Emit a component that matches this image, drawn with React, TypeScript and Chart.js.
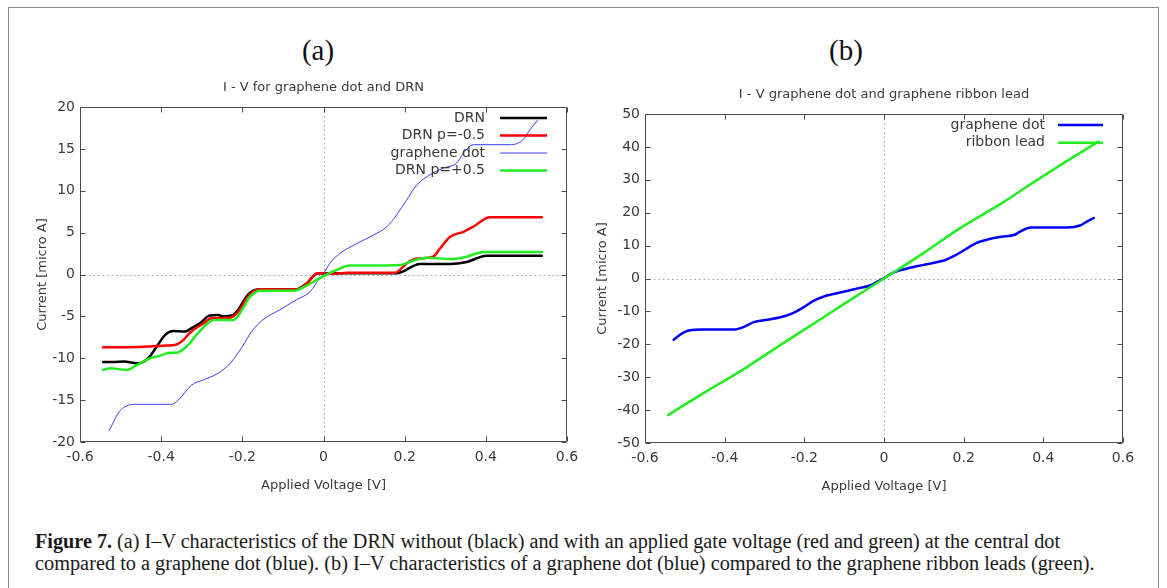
import React, { useEffect, useLayoutEffect, useRef } from 'react';
import { Chart, registerables } from 'chart.js';

Chart.register(...registerables);

// ---------- data ----------
const X_TICKS = [-0.6, -0.4, -0.2, 0, 0.2, 0.4, 0.6];
const Y_TICKS_A = [-20, -15, -10, -5, 0, 5, 10, 15, 20];
const Y_TICKS_B = [-50, -40, -30, -20, -10, 0, 10, 20, 30, 40, 50];

// DRN (black)
const DRN_V = [-0.543, -0.52, -0.49, -0.475, -0.456, -0.432, -0.411, -0.39, -0.37, -0.341, -0.325, -0.304, -0.28, -0.26, -0.247, -0.226, -0.21, -0.19, -0.173, -0.148, -0.07, -0.041, -0.021, -0.009, 0.05, 0.12, 0.18, 0.238, 0.312, 0.353, 0.402, 0.538];
const DRN_I = [-10.45, -10.45, -10.4, -10.5, -10.6, -10.0, -8.6, -7.2, -6.75, -6.8, -6.4, -5.8, -4.9, -4.85, -5.0, -4.9, -4.2, -2.65, -1.93, -1.77, -1.8, -1.05, 0.0, 0.14, 0.14, 0.14, 0.14, 1.25, 1.25, 1.5, 2.25, 2.25];

// DRN p=-0.5 (red)
const RED_V = [-0.543, -0.444, -0.395, -0.362, -0.345, -0.329, -0.296, -0.276, -0.23, -0.21, -0.189, -0.169, -0.148, -0.066, -0.041, -0.021, -0.009, 0.032, 0.057, 0.176, 0.205, 0.225, 0.27, 0.287, 0.312, 0.345, 0.369, 0.41, 0.538];
const RED_I = [-8.7, -8.62, -8.5, -8.35, -7.8, -6.95, -5.83, -5.23, -5.15, -4.44, -2.85, -1.93, -1.77, -1.8, -1.05, 0.0, 0.14, 0.1, 0.22, 0.22, 1.33, 1.85, 2.13, 3.1, 4.5, 5.1, 5.7, 6.83, 6.83];

// graphene dot (blue)
const DOT_V = [-0.528, -0.5, -0.46, -0.374, -0.358, -0.325, -0.297, -0.26, -0.23, -0.2, -0.177, -0.149, -0.107, -0.066, -0.033, -0.009, 0.0, 0.016, 0.04, 0.082, 0.123, 0.156, 0.18, 0.205, 0.23, 0.262, 0.295, 0.328, 0.345, 0.369, 0.46, 0.492, 0.509, 0.527];
const DOT_I = [-18.6, -16.2, -15.5, -15.5, -15.0, -13.2, -12.6, -11.8, -10.6, -8.6, -6.8, -5.4, -4.2, -3.0, -2.05, -0.4, 0.1, 1.37, 2.5, 3.7, 4.7, 5.7, 7.1, 8.9, 10.7, 11.9, 12.7, 13.3, 14.5, 15.5, 15.5, 16.1, 17.3, 18.4];

// DRN p=+0.5 (green)
const GRN_V = [-0.543, -0.526, -0.485, -0.46, -0.427, -0.403, -0.378, -0.362, -0.337, -0.313, -0.288, -0.271, -0.222, -0.198, -0.181, -0.156, -0.074, -0.046, -0.017, 0.0, 0.032, 0.065, 0.115, 0.188, 0.221, 0.254, 0.312, 0.353, 0.378, 0.402, 0.538];
const GRN_I = [-11.4, -11.2, -11.4, -10.8, -10.0, -9.7, -9.33, -9.33, -8.6, -7.2, -5.95, -5.43, -5.43, -4.0, -2.65, -1.93, -1.95, -1.45, -0.65, -0.2, 0.54, 1.06, 1.06, 1.13, 1.65, 2.0, 1.85, 2.13, 2.53, 2.69, 2.69];

// ribbon lead (green, panel b)
const RIB_V = [-0.542, -0.45, -0.362, -0.25, -0.194, -0.1, 0.0, 0.1, 0.191, 0.3, 0.358, 0.45, 0.538];
const RIB_I = [-41.5, -34.6, -28.3, -19.4, -15.1, -7.7, 0.0, 7.8, 15.3, 23.2, 27.9, 35.0, 41.6];

const FONT = "'DejaVu Sans', Verdana, sans-serif";
const TEXT = '#3a3a3a';

const pts = (xs: number[], ys: number[]) => xs.map((x, i) => ({ x, y: ys[i] }));

const gnuFrame = {
  id: 'gnuframe',
  beforeDatasetsDraw(chart: any) {
    const { ctx, chartArea: a, scales } = chart;
    const x0 = Math.round(scales.x.getPixelForValue(0)) + 0.5;
    const y0 = Math.round(scales.y.getPixelForValue(0)) + 0.5;
    ctx.save();
    ctx.strokeStyle = '#a0a0a0';
    ctx.lineWidth = 1;
    ctx.setLineDash([1.5, 3]);
    ctx.beginPath();
    ctx.moveTo(x0, a.top);
    ctx.lineTo(x0, a.bottom);
    ctx.moveTo(a.left, y0);
    ctx.lineTo(a.right, y0);
    ctx.stroke();
    ctx.restore();
  },
  afterDatasetsDraw(chart: any, _args: any, o: any) {
    const { ctx, chartArea: a, scales } = chart;
    const xs = scales.x;
    const ys = scales.y;
    ctx.save();
    ctx.setLineDash([]);
    ctx.strokeStyle = '#4a4a4a';
    ctx.lineWidth = 1;
    const L = Math.round(a.left) + 0.5;
    const R = Math.round(a.right) - 0.5;
    const T = Math.round(a.top) + 0.5;
    const B = Math.round(a.bottom) - 0.5;
    const tl = 5;
    ctx.beginPath();
    ctx.rect(L, T, R - L, B - T);
    xs.ticks.forEach((t: any) => {
      const p = Math.round(xs.getPixelForValue(t.value)) + 0.5;
      ctx.moveTo(p, B);
      ctx.lineTo(p, B - tl);
      ctx.moveTo(p, T);
      ctx.lineTo(p, T + tl);
    });
    ys.ticks.forEach((t: any) => {
      const p = Math.round(ys.getPixelForValue(t.value)) + 0.5;
      ctx.moveTo(L, p);
      ctx.lineTo(L + tl, p);
      ctx.moveTo(R, p);
      ctx.lineTo(R - tl, p);
    });
    ctx.stroke();

    // key (gnuplot style: text right-aligned, sample line after it)
    ctx.font = `14px ${FONT}`;
    ctx.textAlign = 'right';
    ctx.textBaseline = 'middle';
    ctx.fillStyle = TEXT;
    chart.data.datasets.forEach((ds: any, i: number) => {
      const yy = a.top + o.legendTop + i * o.legendStep;
      ctx.fillText(ds.label, a.right - o.legendTextRight, yy);
      ctx.strokeStyle = ds.borderColor;
      ctx.lineWidth = ds.borderWidth;
      ctx.beginPath();
      ctx.moveTo(a.right - o.legendLineStart, yy);
      ctx.lineTo(a.right - o.legendLineEnd, yy);
      ctx.stroke();
    });

    // plot title
    ctx.font = `13px ${FONT}`;
    ctx.textAlign = 'center';
    ctx.fillStyle = TEXT;
    ctx.fillText(o.title, (a.left + a.right) / 2, a.top - o.titleGap);
    ctx.restore();
  },
};

function makeConfig(datasets: any[], yTicks: number[], frame: any, padTop: number, padRight: number, yTitlePad: number) {
  return {
    type: 'line' as const,
    data: { datasets },
    options: {
      animation: false,
      responsive: false,
      layout: { padding: { top: padTop, right: padRight, left: 0, bottom: 0 } },
      elements: { point: { radius: 0 } },
      plugins: {
        legend: { display: false },
        tooltip: { enabled: false },
        title: { display: false },
        gnuframe: frame,
      },
      scales: {
        x: {
          type: 'linear',
          min: X_TICKS[0],
          max: X_TICKS[X_TICKS.length - 1],
          afterBuildTicks: (s: any) => {
            s.ticks = X_TICKS.map((v) => ({ value: v }));
          },
          afterFit: (s: any) => {
            s.height = 51;
          },
          grid: { display: false, drawTicks: false },
          border: { display: false },
          ticks: {
            autoSkip: false,
            maxRotation: 0,
            padding: 7,
            color: TEXT,
            font: { family: FONT, size: 14 },
            callback: (v: number) => (v === 0 ? '0' : v.toFixed(1)),
          },
          title: {
            display: true,
            text: 'Applied Voltage [V]',
            color: TEXT,
            font: { family: FONT, size: 13 },
            padding: 0,
          },
        },
        y: {
          type: 'linear',
          min: yTicks[0],
          max: yTicks[yTicks.length - 1],
          afterBuildTicks: (s: any) => {
            s.ticks = yTicks.map((v) => ({ value: v }));
          },
          afterFit: (s: any) => {
            s.width = 60;
          },
          grid: { display: false, drawTicks: false },
          border: { display: false },
          ticks: {
            autoSkip: false,
            padding: 5,
            color: TEXT,
            font: { family: FONT, size: 14 },
            callback: (v: number) => String(v),
          },
          title: {
            display: true,
            text: 'Current [micro A]',
            color: TEXT,
            font: { family: FONT, size: 13 },
            padding: { top: yTitlePad, bottom: 0 },
          },
        },
      },
    },
    plugins: [gnuFrame],
  };
}

const lineDs = (label: string, data: any[], color: string, width: number, order: number) => ({
  label,
  data,
  borderColor: color,
  backgroundColor: color,
  borderWidth: width,
  pointRadius: 0,
  fill: false,
  cubicInterpolationMode: 'monotone' as const,
  borderJoinStyle: 'round' as const,
  borderCapStyle: 'round' as const,
  order,
});

function CaptionLine({ children, top, target }: { children: any; top: number; target: number }) {
  const ref = useRef<HTMLSpanElement>(null);
  useLayoutEffect(() => {
    const el = ref.current;
    if (!el) return;
    el.style.transform = 'none';
    const w = el.offsetWidth;
    if (w > 0) el.style.transform = `scaleX(${target / w})`;
  }, [target]);
  return (
    <span
      ref={ref}
      style={{
        position: 'absolute',
        left: 35,
        top,
        whiteSpace: 'nowrap',
        fontFamily: "'Liberation Serif', 'Times New Roman', serif",
        fontSize: 20,
        lineHeight: '22px',
        color: '#1a1a1a',
        transformOrigin: 'left center',
        display: 'inline-block',
      }}
    >
      {children}
    </span>
  );
}

export default function App() {
  const refA = useRef<HTMLCanvasElement>(null);
  const refB = useRef<HTMLCanvasElement>(null);

  useEffect(() => {
    const chartA = new Chart(
      refA.current as HTMLCanvasElement,
      makeConfig(
        [
          lineDs('DRN', pts(DRN_V, DRN_I), '#000000', 2.5, 4),
          lineDs('DRN p=-0.5', pts(RED_V, RED_I), '#ff0000', 2.5, 3),
          lineDs('graphene dot', pts(DOT_V, DOT_I), '#3b3bff', 1, 2),
          lineDs('DRN p=+0.5', pts(GRN_V, GRN_I), '#22ec22', 2.5, 1),
        ],
        Y_TICKS_A,
        {
          title: 'I - V for graphene dot and DRN',
          titleGap: 19,
          legendTop: 11,
          legendStep: 17.5,
          legendTextRight: 82,
          legendLineStart: 67,
          legendLineEnd: 20,
        },
        37,
        23,
        15
      ) as any
    );
    const chartB = new Chart(
      refB.current as HTMLCanvasElement,
      makeConfig(
        [
          lineDs('graphene dot', pts(DOT_V, DOT_I), '#0000ff', 2.5, 2),
          lineDs('ribbon lead', pts(RIB_V, RIB_I), '#22ec22', 2.5, 1),
        ],
        Y_TICKS_B,
        {
          title: 'I - V graphene dot and graphene ribbon lead',
          titleGap: 19,
          legendTop: 11,
          legendStep: 17.7,
          legendTextRight: 78,
          legendLineStart: 65,
          legendLineEnd: 20,
        },
        44,
        22,
        10
      ) as any
    );
    return () => {
      chartA.destroy();
      chartB.destroy();
    };
  }, []);

  const panelLabel = (text: string, cx: number) => (
    <div
      style={{
        position: 'absolute',
        left: cx - 50,
        top: 33,
        width: 100,
        textAlign: 'center',
        fontFamily: "'Liberation Serif', 'Times New Roman', serif",
        fontSize: 29,
        lineHeight: '34px',
        color: '#111',
      }}
    >
      {text}
    </div>
  );

  return (
    <div
      style={{
        position: 'absolute',
        left: 0,
        top: 0,
        width: 1167,
        height: 588,
        overflow: 'hidden',
        background: '#fff',
      }}
    >
      <div
        style={{
          position: 'absolute',
          left: 8,
          top: 7,
          width: 1151,
          height: 620,
          border: '1px solid #8c8c8c',
          boxSizing: 'border-box',
        }}
      />
      {panelLabel('(a)', 318)}
      {panelLabel('(b)', 846)}
      <canvas
        ref={refA}
        width={570}
        height={423}
        style={{ position: 'absolute', left: 20, top: 70, width: 570, height: 423 }}
      />
      <canvas
        ref={refB}
        width={560}
        height={424}
        style={{ position: 'absolute', left: 585, top: 70, width: 560, height: 424 }}
      />
      <CaptionLine top={530} target={1025}>
        <b>Figure 7.</b> (a) I–V characteristics of the DRN without (black) and with an applied gate voltage (red and green) at the central dot
      </CaptionLine>
      <CaptionLine top={552} target={1060}>
        compared to a graphene dot (blue). (b) I–V characteristics of a graphene dot (blue) compared to the graphene ribbon leads (green).
      </CaptionLine>
    </div>
  );
}
